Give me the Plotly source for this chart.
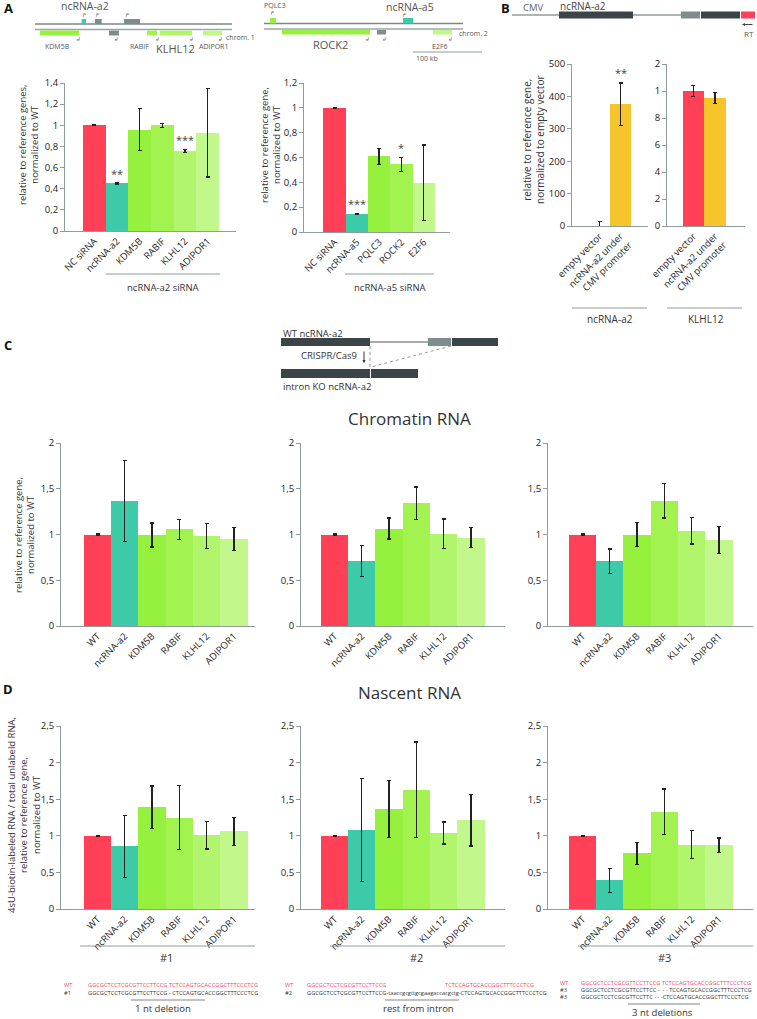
import plotly.graph_objects as go

W, H = 757, 1019
FONT = "Open Sans"

RED = "#FF4056"
TEAL = "#3DCAA8"
G1 = "#96F03E"
G2 = "#A2F350"
G3 = "#B0F56C"
G4 = "#C2F78C"
YEL = "#F5C52B"
DARK = "#3B4447"
GREY = "#7E8D8C"
LINE = "#8E9C9B"
TXT = "#333333"

# ---------------- data ----------------
a1_cats = ["NC siRNA", "ncRNA-a2", "KDM5B", "RABIF", "KLHL12", "ADIPOR1"]
a1_vals = [1.0, 0.45, 0.96, 1.0, 0.755, 0.93]
a1_err = [0.005, 0.004, 0.2, 0.02, 0.015, 0.42]

a2_cats = ["NC siRNA", "ncRNA-a5", "PQLC3", "ROCK2", "E2F6"]
a2_vals = [1.0, 0.147, 0.61, 0.545, 0.395]
a2_err = [0.004, 0.003, 0.065, 0.055, 0.305]

b_cats = ["empty vector", "ncRNA-a2 under<br>CMV promoter"]
b1_vals = [1, 376]
b1_err = [12, 65]
b2_vals = [1.0, 0.95]
b2_err = [0.04, 0.04]

cd_cats = ["WT", "ncRNA-a2", "KDM5B", "RABIF", "KLHL12", "ADIPOR1"]
c1_vals = [1.0, 1.365, 0.995, 1.055, 0.985, 0.95]
c1_err = [0.005, 0.445, 0.13, 0.11, 0.135, 0.125]
c2_vals = [1.0, 0.71, 1.065, 1.34, 1.01, 0.965]
c2_err = [0.005, 0.17, 0.115, 0.178, 0.16, 0.108]
c3_vals = [1.0, 0.71, 1.0, 1.37, 1.04, 0.94]
c3_err = [0.005, 0.133, 0.128, 0.188, 0.145, 0.145]
d1_vals = [1.0, 0.855, 1.39, 1.25, 1.01, 1.06]
d1_err = [0.005, 0.425, 0.29, 0.44, 0.19, 0.19]
d2_vals = [1.0, 1.08, 1.37, 1.63, 1.04, 1.21]
d2_err = [0.005, 0.70, 0.39, 0.65, 0.15, 0.35]
d3_vals = [1.0, 0.39, 0.76, 1.33, 0.88, 0.87]
d3_err = [0.005, 0.16, 0.15, 0.31, 0.19, 0.10]

a_ticks = [0, 0.2, 0.4, 0.6, 0.8, 1.0, 1.2, 1.4]
a_ticktext = ["0", "0,2", "0,4", "0,6", "0,8", "1", "1,2", "1,4"]
b1_ticks = [0, 100, 200, 300, 400, 500]
b1_ticktext = ["0", "100", "200", "300", "400", "500"]
b2_ticks = [0, 0.2, 0.4, 0.6, 0.8, 1.0, 1.2]
b2_ticktext = ["0", "2", "4", "6", "8", "1", "2"]
c_ticks = [0, 0.5, 1, 1.5, 2]
c_ticktext = ["0", "0,5", "1", "1,5", "2"]
d_ticks = [0, 0.5, 1, 1.5, 2, 2.5]
d_ticktext = ["0", "0,5", "1", "1,5", "2", "2,5"]

seq_wt = "GGCGCTCCTCGCGTTCCTTCCG TCTCCAGTGCACCGGCTTTCCCTCG"
seq_1 = "GGCGCTCCTCGCGTTCCTTCCG - CTCCAGTGCACCGGCTTTCCCTCG"
seq_wt2a = "GGCGCTCCTCGCGTTCCTTCCG"
seq_wt2b = "TCTCCAGTGCACCGGCTTTCCCTCG"
seq_2 = "GGCGCTCCTCGCGTTCCTTCCG-taaccgcgttgcgaagaccacgctg-CTCCAGTGCACCGGCTTTCCCTCG"
seq_3a = "GGCGCTCCTCGCGTTCCTTCC -  - - TCCAGTGCACCGGCTTTCCCTCG"
seq_3b = "GGCGCTCCTCGCGTTCCTTC - - -CTCCAGTGCACCGGCTTTCCCTCG"

# ---------------- helpers ----------------
fig = go.Figure()
axes = {}
shapes = []
annots = []


def X(p):
    return p / W


def Y(p):
    return 1 - p / H


def rect(x0, y0, x1, y1, color):
    shapes.append(dict(type="rect", xref="paper", yref="paper", x0=X(x0), x1=X(x1),
                       y0=Y(y1), y1=Y(y0), fillcolor=color, line=dict(width=0)))


def line(x0, y0, x1, y1, color=LINE, width=1.2, dash=None):
    d = dict(type="line", xref="paper", yref="paper", x0=X(x0), x1=X(x1),
             y0=Y(y0), y1=Y(y1), line=dict(color=color, width=width))
    if dash:
        d["line"]["dash"] = dash
    shapes.append(d)


def text(x, y, s, size=9, color=TXT, xa="center", ya="middle", angle=0, bold=False,
         family=FONT, align="center"):
    if bold:
        s = "<b>" + s + "</b>"
    annots.append(dict(x=X(x), y=Y(y), xref="paper", yref="paper", text=s, showarrow=False,
                       xanchor=xa, yanchor=ya, textangle=angle, align=align,
                       font=dict(size=size, color=color, family=family)))


def arrow(x, y, dx, dy, color="#444"):
    # head at (x, y); tail offset by (dx, dy) pixels
    annots.append(dict(x=X(x), y=Y(y), xref="paper", yref="paper", ax=dx, ay=dy,
                       axref="pixel", ayref="pixel", showarrow=True, arrowhead=2,
                       arrowsize=0.6, arrowwidth=1, arrowcolor=color, text=""))


def chart(n, cats, vals, errs, colors, xd, yd, yr, tv, tt, xr, catsize=9.5):
    xa = "x" if n == 1 else "x%d" % n
    ya = "y" if n == 1 else "y%d" % n
    fig.add_trace(go.Bar(x=cats, y=vals, width=1, showlegend=False,
                         marker=dict(color=colors, line=dict(width=0)),
                         error_y=dict(type="data", array=errs, color="#222222",
                                      thickness=1.3, width=2),
                         xaxis=xa, yaxis=ya, hoverinfo="skip"))
    xk = "xaxis" if n == 1 else "xaxis%d" % n
    yk = "yaxis" if n == 1 else "yaxis%d" % n
    axes[xk] = dict(domain=[X(xd[0]), X(xd[1])], anchor=ya, type="category",
                    categoryorder="array", categoryarray=cats, range=xr,
                    showline=True, linecolor=LINE, linewidth=1, ticks="",
                    tickangle=-45, tickfont=dict(size=catsize, color="#222", family=FONT),
                    showgrid=False, zeroline=False, fixedrange=True, automargin=False)
    axes[yk] = dict(domain=[Y(yd[1]), Y(yd[0])], anchor=xa, range=yr,
                    showline=True, linecolor=LINE, linewidth=1, ticks="outside",
                    ticklen=4, tickcolor=LINE, tickvals=tv, ticktext=tt,
                    tickfont=dict(size=9.5, color="#222", family=FONT),
                    showgrid=False, zeroline=False, fixedrange=True, automargin=False)
    return xa, ya


a1_cols = [RED, TEAL, G1, G2, G3, G4]
a2_cols = [RED, TEAL, G1, G2, G4]
cd_cols = [RED, TEAL, G1, G2, G3, G4]

chart(1, a1_cats, a1_vals, a1_err, a1_cols, (65, 236), (83, 231), [0, 1.4],
      a_ticks, a_ticktext, [-1.3, 6.25])
chart(2, a2_cats, a2_vals, a2_err, a2_cols, (304, 450), (83, 232), [0, 1.2],
      a_ticks[:7], a_ticktext[:7], [-1.37, 5.18])
chart(3, b_cats, b1_vals, b1_err, [RED, YEL], (572, 648), (64, 226), [0, 500],
      b1_ticks, b1_ticktext, [-1.31, 2.31])
chart(4, b_cats, b2_vals, b2_err, [RED, YEL], (667, 745), (64, 226), [0, 1.2],
      b2_ticks, b2_ticktext, [-1.23, 2.40])
cx = [(61, 255), (301, 505), (548, 753)]
crng = [[-1.337, 5.77], [-1.227, 6.245], [-1.264, 6.245]]
for i, (v, e) in enumerate([(c1_vals, c1_err), (c2_vals, c2_err), (c3_vals, c3_err)]):
    chart(5 + i, cd_cats, v, e, cd_cols, cx[i], (443, 626), [0, 2], c_ticks, c_ticktext,
          crng[i])
for i, (v, e) in enumerate([(d1_vals, d1_err), (d2_vals, d2_err), (d3_vals, d3_err)]):
    chart(8 + i, cd_cats, v, e, cd_cols, cx[i], (726, 909), [0, 2.5], d_ticks, d_ticktext,
          crng[i])


# significance stars (data coordinates)
def star(xa, ya, cat, yv, s):
    annots.append(dict(x=cat, y=yv, xref=xa, yref=ya, text=s, showarrow=False,
                       yanchor="bottom", font=dict(size=11, color="#444", family=FONT)))


star("x", "y", "ncRNA-a2", 0.455, "**")
star("x", "y", "KLHL12", 0.775, "***")
star("x2", "y2", "ncRNA-a5", 0.15, "***")
star("x2", "y2", "ROCK2", 0.605, "*")
star("x3", "y3", "ncRNA-a2 under<br>CMV promoter", 445, "**")

# ---------------- panel letters ----------------
text(8, 8, "A", 13, "#111", bold=True)
text(505, 8, "B", 13, "#111", bold=True)
text(8, 345, "C", 13, "#111", bold=True)
text(8, 689, "D", 13, "#111", bold=True)

# ---------------- schematic A left ----------------
text(85, 6.5, "ncRNA-a2", 10.5, "#555")
line(35, 24, 232, 24, "#7A8A89", 1.3)
line(35, 29.5, 232, 29.5, "#9AA7A6", 1.3)
rect(81.7, 19, 86, 24, TEAL)
rect(95, 19, 101.7, 24, GREY)
rect(124, 19, 140, 24, GREY)
for ax in (84, 97, 127):
    text(ax, 15.5, "↱", 5.5, "#555", family="DejaVu Sans")
rect(40, 30.5, 79, 35.5, G1)
rect(109, 30.5, 119, 35.5, GREY)
rect(147, 30.5, 157, 35.5, G2)
rect(160, 30.5, 192, 35.5, G3)
rect(203, 30.5, 222, 35.5, G4)
for ax in (78, 116, 157, 191, 220):
    text(ax, 39.5, "↲", 5.5, "#555", family="DejaVu Sans")
text(57, 47, "KDM5B", 7, "#555")
text(139, 47, "RABIF", 7, "#555")
text(175, 48, "KLHL12", 11, "#555")
text(213, 47, "ADIPOR1", 7, "#555")
text(241, 37.5, "chrom. 1", 7, "#555")

# ---------------- schematic A right ----------------
text(275, 5, "PQLC3", 7, "#555")
text(410, 7, "ncRNA-a5", 10.5, "#555")
line(264, 23.5, 463, 23.5, "#7A8A89", 1.3)
line(264, 29, 463, 29, "#9AA7A6", 1.3)
rect(270, 18, 276, 23.5, G1)
rect(403, 18, 413, 23.5, TEAL)
text(272, 13, "↱", 5.5, "#555", family="DejaVu Sans")
text(404, 15, "↱", 5.5, "#555", family="DejaVu Sans")
rect(282, 30, 370, 34.5, G1)
rect(377, 30, 386, 34.5, GREY)
rect(433, 30, 452, 34.5, G4)
for ax in (367, 384, 450):
    text(ax, 39.5, "↲", 5.5, "#555", family="DejaVu Sans")
text(330, 44, "ROCK2", 11, "#555")
text(440, 46.5, "E2F6", 7, "#555")
text(473, 34, "chrom. 2", 7, "#555")
line(413, 52, 482, 52, "#8E9C9B", 1.2)
text(414, 58, "100 kb", 7, "#555", xa="left")

# ---------------- schematic B ----------------
line(512, 15, 559, 15, "#8E9C9B", 1.3)
text(533, 8, "CMV", 9.5, "#666")
rect(559, 11.5, 633, 18.5, DARK)
text(583, 5.5, "ncRNA-a2", 10, "#444")
line(633, 15, 681, 15, "#8E9C9B", 1.3)
rect(681, 11.5, 700, 18.5, GREY)
rect(701, 11.5, 740, 18.5, DARK)
rect(741, 11.5, 755, 18.5, RED)
arrow(742, 24.5, 12, 0)
text(749, 34, "RT", 8, "#555")

# ---------------- schematic C ----------------
text(281, 333, "WT ncRNA-a2", 9.5, "#333", xa="left")
rect(281, 338, 370, 346, DARK)
line(370, 342, 428, 342, "#555", 1)
rect(428, 338, 451, 346, GREY)
rect(452, 338, 498, 346, DARK)
text(329, 355, "CRISPR/Cas9", 9.5, "#333")
arrow(364, 363, 0, -13, "#333")
line(370, 346, 370, 369, "#999", 1, "dot")
line(451, 346, 371, 367, "#999", 1, "dot")
rect(281, 369, 370, 378, DARK)
rect(371, 369, 418, 378, DARK)
text(281, 386, "intron KO ncRNA-a2", 9.5, "#333", xa="left")

text(410, 418, "Chromatin RNA", 17, "#333")
text(410, 692, "Nascent RNA", 17, "#333")

# ---------------- axis titles ----------------
text(28, 145, "relative to reference genes,<br>normalized to WT", 9.5, "#333", angle=-90)
text(270, 145, "relative to reference gene,<br>normalized to WT", 9.5, "#333", angle=-90)
text(533, 140, "relative to reference gene,<br>normalized to empty vector", 10, "#333", angle=-90)
text(24, 535, "relative to reference gene,<br>normalized to WT", 9.5, "#333", angle=-90)
text(24, 815, "4sU-biotin-labeled RNA / total unlabeld RNA,<br>relative to reference gene,<br>normalized to WT",
     9.5, "#333", angle=-90)

# ---------------- group underlines ----------------
line(106, 274, 220, 274)
text(163, 287, "ncRNA-a2 siRNA", 9.5, "#333")
line(345, 274, 434, 274)
text(390, 287, "ncRNA-a5 siRNA", 9.5, "#333")
line(572, 308, 647, 308)
text(610, 319, "ncRNA-a2", 10, "#333")
line(667, 308, 742, 308)
text(706, 319, "KLHL12", 10, "#333")

for i, lab in enumerate(["#1", "#2", "#3"]):
    x0 = [80, 330, 578][i]
    line(x0, 946, x0 + 175, 946)
    text(x0 + 86, 957, lab, 11, "#333")

# ---------------- sequences ----------------
SEQ_RED = "#FF4060"
SEQ_DK = "#333"
SF = 5.7
text(62, 985, "WT", SF, SEQ_RED, xa="left")
text(62, 993, "#1", SF, SEQ_DK, xa="left")
text(86, 985, seq_wt, SF, SEQ_RED, xa="left")
text(86, 993, seq_1, SF, SEQ_DK, xa="left")
line(131, 1000, 205, 1000, "#666", 0.8)
text(163, 1008, "1 nt deletion", 9.5, "#333")

text(283, 985, "WT", SF, SEQ_RED, xa="left")
text(283, 993, "#2", SF, SEQ_DK, xa="left")
text(305, 985, seq_wt2a, SF, SEQ_RED, xa="left")
text(536, 985, seq_wt2b, SF, SEQ_RED, xa="right")
text(305, 993, seq_2, SF, SEQ_DK, xa="left")
line(385, 1000, 459, 1000, "#666", 0.8)
text(418, 1008, "rest from intron", 9.5, "#333")

text(558, 983, "WT", SF, SEQ_RED, xa="left")
text(558, 990, "#3", SF, SEQ_DK, xa="left")
text(558, 997, "#3", SF, SEQ_DK, xa="left")
text(579, 983, seq_wt, SF, SEQ_RED, xa="left")
text(579, 990, seq_3a, SF, SEQ_DK, xa="left")
text(579, 997, seq_3b, SF, SEQ_DK, xa="left")
line(628, 1004, 700, 1004, "#666", 0.8)
text(662, 1012, "3 nt deletions", 9.5, "#333")

fig.update_layout(width=W, height=H, margin=dict(l=0, r=0, t=0, b=0, autoexpand=False),
                  paper_bgcolor="white", plot_bgcolor="white", bargap=0,
                  font=dict(family=FONT, color=TXT), shapes=shapes, annotations=annots,
                  **axes)
fig.write_html("out.html",
               config={"displayModeBar": False, "staticPlot": True},
               post_script="document.body.style.margin='0px';"
                           "document.body.style.padding='0px';"
                           "document.body.style.overflow='hidden';")
